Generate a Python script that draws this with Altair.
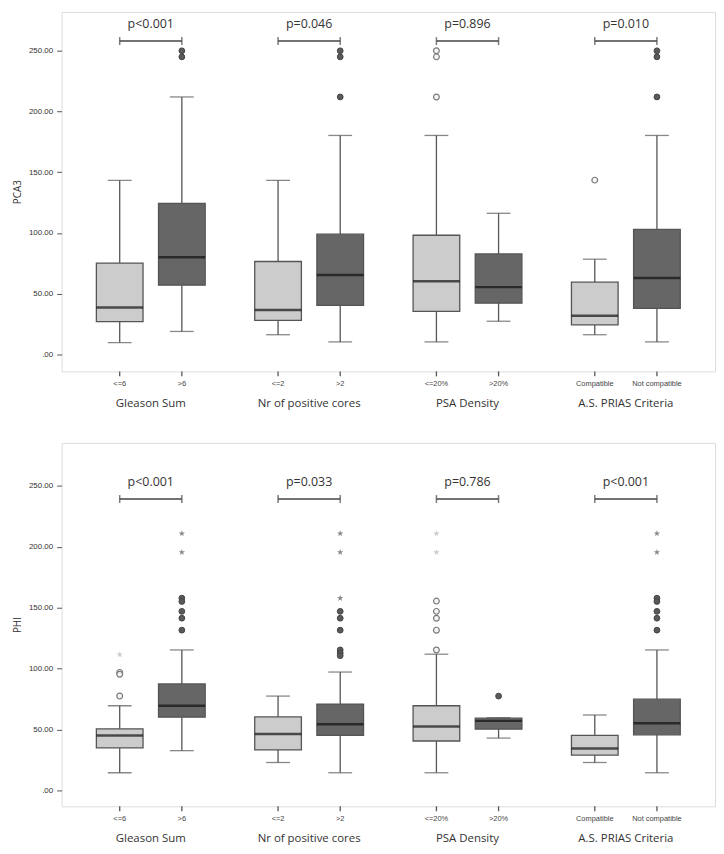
import altair as alt
import pandas as pd

groups = ["Gleason Sum", "Nr of positive cores", "PSA Density", "A.S. PRIAS Criteria"]
sub_labels = [["<=6", ">6"], ["<=2", ">2"], ["<=20%", ">20%"], ["Compatible", "Not compatible"]]
shades = ["light", "dark"]

# PCA3 panel (order: group x sub)
pca3_low = [9.7, 18.9, 16.2, 10.3, 10.3, 27.3, 16.2, 10.3]
pca3_q1 = [27.0, 57.0, 28.1, 40.3, 35.4, 42.2, 24.3, 37.9]
pca3_med = [38.7, 80.0, 36.5, 65.4, 60.3, 55.4, 31.9, 63.0]
pca3_q3 = [75.2, 124.3, 76.5, 99.0, 98.1, 82.7, 59.5, 103.0]
pca3_high = [143.3, 212.0, 143.3, 180.3, 180.3, 116.2, 78.4, 180.3]
pca3_outliers = [[], [250, 245], [], [250, 245, 212], [250, 245, 212], [], [143.5], [250, 245, 212]]
pca3_extremes = [[], [], [], [], [], [], [], []]
pca3_p = ["p<0.001", "p=0.046", "p=0.896", "p=0.010"]

# PHI panel
phi_low = [14.8, 32.9, 23.2, 14.8, 14.8, 43.2, 23.2, 14.8]
phi_q1 = [35.1, 60.3, 33.5, 45.4, 40.8, 50.5, 29.2, 45.9]
phi_med = [45.4, 69.7, 46.5, 54.6, 52.7, 57.3, 34.6, 55.4]
phi_q3 = [50.8, 87.6, 60.5, 71.1, 69.7, 59.5, 45.4, 75.1]
phi_high = [69.7, 115.4, 77.6, 97.3, 111.9, 59.9, 62.1, 115.4]
phi_outliers = [[97.0, 95.5, 77.6], [157.8, 155.1, 147.0, 141.4, 131.6], [],
                [147.0, 141.4, 131.6, 115.4, 112.9, 110.7],
                [155.4, 147.0, 141.4, 131.6, 115.4], [77.6], [],
                [157.8, 155.1, 147.0, 141.4, 131.6]]
phi_extremes = [[111.6], [210.8, 195.4], [], [210.8, 195.4, 157.8], [210.8, 195.4], [], [], [210.8, 195.4]]
phi_p = ["p<0.001", "p=0.033", "p=0.786", "p<0.001"]

STAR = ("M0,-1L0.235,-0.324L0.951,-0.309L0.38,0.124L0.588,0.809L0,0.4"
        "L-0.588,0.809L-0.38,0.124L-0.951,-0.309L-0.235,-0.324Z")
TITLE_FONT = "Open Sans"
LABEL_FONT = "Liberation Sans"


def panel(low, q1, med, q3, high, outl, extr, pvals, title, domain, h, w, bracket_y, p_y):
    rows, orows, erows, brows = [], [], [], []
    for gi, g in enumerate(groups):
        for si in range(2):
            k = gi * 2 + si
            rows.append(dict(group=g, sub=str(si), label=sub_labels[gi][si], shade=shades[si],
                             low=low[k], q1=q1[k], med=med[k], q3=q3[k], high=high[k]))
            for v in outl[k]:
                orows.append(dict(group=g, sub=str(si), shade=shades[si], value=v))
            for v in extr[k]:
                erows.append(dict(group=g, sub=str(si), shade=shades[si], value=v))
            brows.append(dict(group=g, sub=str(si), by=bracket_y))
    box = pd.DataFrame(rows)
    out = pd.DataFrame(orows, columns=["group", "sub", "shade", "value"])
    ext = pd.DataFrame(erows, columns=["group", "sub", "shade", "value"])
    br = pd.DataFrame(brows)
    pdf = pd.DataFrame(dict(group=groups, p=pvals, py=[p_y] * 4))

    X = alt.X("group:N", sort=groups, axis=None,
              scale=alt.Scale(paddingInner=0, paddingOuter=0.063))
    XO = alt.XOffset("sub:N", sort=["0", "1"],
                     scale=alt.Scale(paddingInner=0, paddingOuter=0.274))

    def Y(field):
        return alt.Y(f"{field}:Q", title=title,
                     scale=alt.Scale(domain=domain, nice=False, zero=False),
                     axis=alt.Axis(values=[0, 50, 100, 150, 200, 250],
                                   labelExpr="datum.value == 0 ? '.00' : format(datum.value, '.2f')",
                                   grid=False, domain=False, tickSize=5, tickColor="#555",
                                   labelFontSize=8, labelColor="#333", labelFont=LABEL_FONT,
                                   labelPadding=4, titleFontSize=10, titleFont=TITLE_FONT,
                                   titleFontWeight="normal", titleColor="#333", titlePadding=6))

    base = alt.Chart(box)
    whisk = base.mark_rule(color="#555", strokeWidth=1.3).encode(x=X, xOffset=XO, y=Y("low"), y2="high")
    bars = base.mark_bar(size=47, stroke="#555", strokeWidth=1.3).encode(
        x=X, xOffset=XO, y=Y("q1"), y2="q3",
        fill=alt.Fill("shade:N", scale=alt.Scale(domain=shades, range=["#cccccc", "#666666"]), legend=None))
    medt = base.mark_tick(size=47, thickness=2.5, color="#111").encode(x=X, xOffset=XO, y=Y("med"))
    capl = base.mark_tick(size=24, thickness=1.3, color="#555").encode(x=X, xOffset=XO, y=Y("low"))
    caph = base.mark_tick(size=24, thickness=1.3, color="#555").encode(x=X, xOffset=XO, y=Y("high"))

    oc = alt.Chart(out)
    out_l = oc.transform_filter("datum.shade == 'light'").mark_point(
        shape="circle", size=34, filled=True, fill="#f4f4f4", stroke="#777", strokeWidth=1.2, opacity=1
    ).encode(x=X, xOffset=XO, y=Y("value"))
    out_d = oc.transform_filter("datum.shade == 'dark'").mark_point(
        shape="circle", size=34, filled=True, fill="#5a5a5a", stroke="#444", strokeWidth=1.0, opacity=1
    ).encode(x=X, xOffset=XO, y=Y("value"))

    ec = alt.Chart(ext)
    ext_l = ec.transform_filter("datum.shade == 'light'").mark_point(
        shape=STAR, size=45, filled=True, fill="#cccccc", strokeWidth=0, opacity=1
    ).encode(x=X, xOffset=XO, y=Y("value"))
    ext_d = ec.transform_filter("datum.shade == 'dark'").mark_point(
        shape=STAR, size=45, filled=True, fill="#8a8a8a", strokeWidth=0, opacity=1
    ).encode(x=X, xOffset=XO, y=Y("value"))

    bc = alt.Chart(br)
    bline = bc.mark_line(color="#444", strokeWidth=1.5).encode(x=X, xOffset=XO, y=Y("by"), detail="group:N")
    bcaps = bc.mark_tick(orient="vertical", size=8, thickness=1.5, color="#444").encode(
        x=X, xOffset=XO, y=Y("by"))

    pc = alt.Chart(pdf)
    ptext = pc.mark_text(fontSize=12.5, color="#333", font=TITLE_FONT).encode(x=X, y=Y("py"), text="p:N")
    gtext = pc.mark_text(fontSize=11.5, color="#333", font=TITLE_FONT).encode(
        x=X, y=alt.value(h + 33), text="group:N")

    xticks = base.mark_rule(color="#555", strokeWidth=1.3).encode(
        x=X, xOffset=XO, y=alt.value(h), y2=alt.value(h + 5))
    slabels = base.mark_text(fontSize=7.5, color="#444", font=LABEL_FONT).encode(
        x=X, xOffset=XO, y=alt.value(h + 13), text="label:N")

    return alt.layer(whisk, bars, medt, capl, caph, out_l, out_d, ext_l, ext_d,
                     bline, bcaps, ptext, gtext, xticks, slabels).properties(width=w, height=h)


top = panel(pca3_low, pca3_q1, pca3_med, pca3_q3, pca3_high, pca3_outliers, pca3_extremes,
            pca3_p, "PCA3", [-14, 282], 362, 658, 258, 272)
bottom = panel(phi_low, phi_q1, phi_med, phi_q3, phi_high, phi_outliers, phi_extremes,
               phi_p, "PHI", [-12.7, 285], 366, 658, 239, 253)

chart = alt.vconcat(top, bottom, spacing=32).properties(
    padding={"left": 4, "top": 0, "right": 0, "bottom": 0}
).configure_view(stroke="#777", strokeWidth=1.2).configure(background="white")

chart.save("out.html", embed_options={"renderer": "svg", "actions": False})
